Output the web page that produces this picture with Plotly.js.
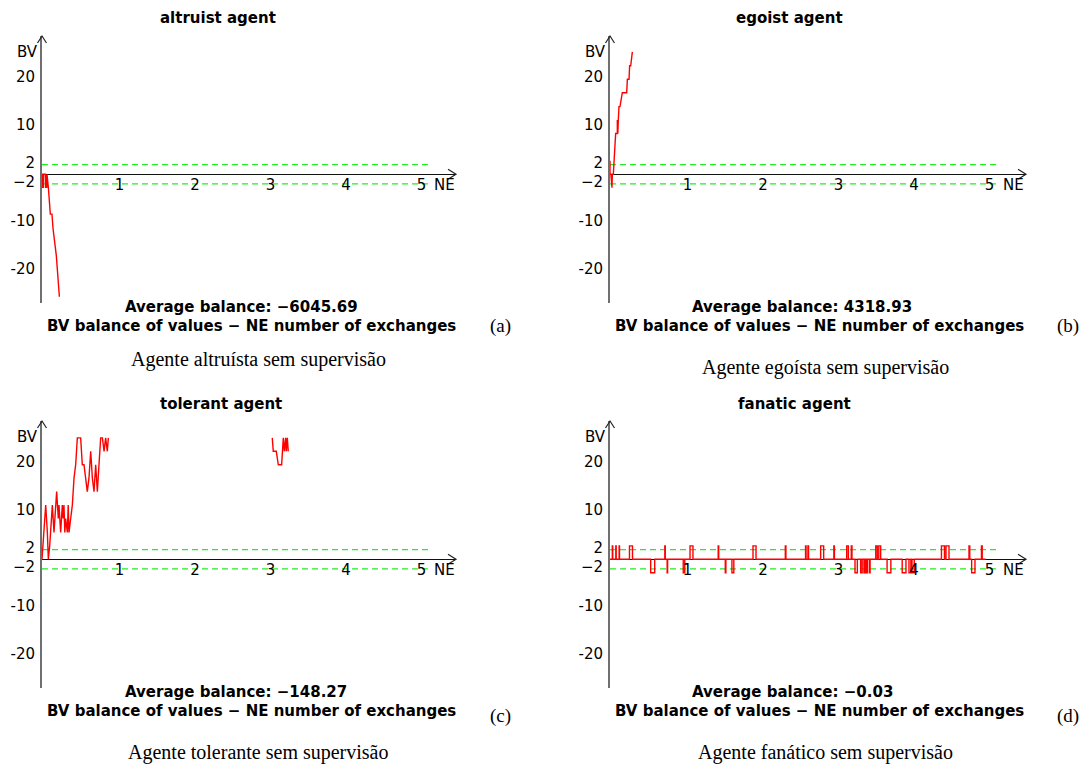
<!DOCTYPE html>
<html>
<head>
<meta charset="utf-8">
<script src="https://cdn.plot.ly/plotly-3.0.1.min.js"></script>
<style>html,body{margin:0;padding:0;background:#fff;}#chart{width:1086px;height:764px;}</style>
</head>
<body>
<div id="chart"></div>
<script>
// ---------- data ----------
const xTickVals = [1, 2, 3, 4, 5];
const xTickText = ["1", "2", "3", "4", "5"];
const yTickVals = [20, 10, 2, -2, -10, -20];
const yTickText = ["20", "10", "2", "\u22122", "-10", "-20"];

const thresholdX = [0, 5.13];
const upperLimit = [2, 2];
const lowerLimit = [-2, -2];

const panelTitles = ["altruist agent", "egoist agent", "tolerant agent", "fanatic agent"];
const averageBalances = ["\u22126045.69", "4318.93", "\u2212148.27", "\u22120.03"];
const panelLetters = ["(a)", "(b)", "(c)", "(d)"];
const captions = ["Agente altruísta sem supervisão", "Agente egoísta sem supervisão",
                  "Agente tolerante sem supervisão", "Agente fanático sem supervisão"];

// altruist agent
const altruistX = [0, 0.004, 0.004, 0.020, 0.022, 0.047, 0.049, 0.064, 0.066, 0.084, 0.11, 0.132, 0.146, 0.168, 0.19, 0.23];
const altruistY = [0, 0, -2.7, -2.7, 0, 0, -2.7, -2.7, 0, -2.7, -8.3, -8.3, -11.3, -14.1, -17, -25.5];

// egoist agent
const egoistX = [0, 0, 0.012, 0.018, 0.026, 0.031, 0.044, 0.075, 0.097, 0.097, 0.104, 0.11, 0.119, 0.132, 0.163, 0.221, 0.23, 0.252, 0.26, 0.274, 0.296];
const egoistY = [2.8, 0, 0, -2.8, -2.8, 0, 0, 8.5, 8.5, 11.3, 8.5, 11.3, 14.1, 14.1, 17, 17, 19.8, 19.8, 22.6, 22.6, 25.5];

// tolerant agent (null = leaves the visible band)
const tolerantX = [0, 0.049, 0.071, 0.084, 0.102, 0.137, 0.159, 0.194, 0.216, 0.225, 0.247, 0.269, 0.28, 0.291, 0.302, 0.313, 0.336, 0.347, 0.358, 0.37, 0.38, 0.402, 0.424, 0.446, 0.468, 0.512, 0.534, 0.556, 0.578, 0.6, 0.622, 0.645, 0.667, 0.689, 0.711, 0.733, 0.755, 0.777, 0.8, 0.822, 0.843, 0.865, 0.879,
                   null,
                   3.05, 3.063, 3.103, 3.13, 3.174, 3.183, 3.196, 3.21, 3.227, 3.236, 3.249, 3.262];
const tolerantY = [0, 11.3, 5.6, 0, 2.8, 11.3, 5.6, 14.1, 8.5, 11.3, 5.6, 11.3, 8.5, 11.3, 5.6, 8.5, 5.6, 11.3, 5.6, 8.5, 8.5, 11.3, 16.9, 19.7, 25.3, 25.3, 19.7, 19.7, 16.9, 14.1, 16.9, 22.5, 16.9, 14.1, 19.7, 14.1, 19.7, 25.3, 25.3, 22.5, 25.3, 22.5, 25.3,
                   null,
                   25.3, 22.5, 22.5, 19.7, 19.7, 22.5, 25.3, 22.5, 25.3, 22.5, 25.3, 22.5];

// fanatic agent: change points of a step line (value holds until next point)
const fanaticX = [0, 0.031, 0.036, 0.077, 0.082, 0.121, 0.126, 0.258, 0.298, 0.539, 0.592, 0.726, 0.732, 0.757, 0.763,
                  0.970, 0.990, 1.060, 1.099, 1.433, 1.440, 1.527, 1.535, 1.615, 1.640, 1.894, 1.934, 2.322, 2.330,
                  2.590, 2.597, 2.622, 2.630, 2.790, 2.830, 2.965, 2.972, 3.135, 3.157, 3.196, 3.205, 3.245, 3.276,
                  3.320, 3.340, 3.364, 3.380, 3.395, 3.408, 3.435, 3.445, 3.520, 3.540, 3.560, 3.585, 3.670, 3.720,
                  3.870, 3.920, 3.960, 3.985, 4.000, 4.030, 4.390, 4.430, 4.450, 4.490, 4.755, 4.765, 4.790, 4.834,
                  4.920, 4.930, 4.976];
const fanaticY = [0, 2.8, 0, 2.8, 0, 2.8, 0, 2.8, 0, -2.8, 0, 2.8, 0, -2.8, 0,
                  -2.8, 0, 2.8, 0, 2.8, 0, -2.8, 0, -2.8, 0, 2.8, 0, 2.8, 0,
                  2.8, 0, 2.8, 0, 2.8, 0, 2.8, 0, 2.8, 0, 2.8, 0, -2.8, 0,
                  -2.8, 0, -2.8, 0, -2.8, 0, -2.8, 0, 2.8, 0, 2.8, 0, -2.8, 0,
                  -2.8, 0, -2.8, 0, -2.8, 0, 2.8, 0, 2.8, 0, 2.8, 0, -2.8, 0,
                  2.8, 0, 0];

// ---------- layout geometry (pixels) ----------
const W = 1086, H = 764;
const UNIT_X = 75.5, UNIT_Y = 4.8;
const panels = [
  {axisX: 42,  zeroY: 174.3, top: 36,  bottom: 303, right: 456, avgY: 307, descY: 326, letterY: 326, capY: 360, titleY: 18},
  {axisX: 610, zeroY: 174.3, top: 36,  bottom: 303, right: 1026, avgY: 307, descY: 326, letterY: 326, capY: 367, titleY: 18},
  {axisX: 42,  zeroY: 559.3, top: 421, bottom: 688, right: 456, avgY: 692, descY: 711, letterY: 716, capY: 752, titleY: 404},
  {axisX: 610, zeroY: 559.3, top: 421, bottom: 688, right: 1026, avgY: 692, descY: 711, letterY: 716, capY: 752, titleY: 404}
];
const titleCX = [218, 789, 221, 794];
const avgLeft = [123, 690, 123, 690];
const descCX = [251, 819, 251, 819];
const letterCX = [500, 1068, 500, 1068];
const capCX = [258, 826, 258, 826];

const px = v => v / W;
const py = v => 1 - v / H;

const FONT = "DejaVu Sans, Lato, sans-serif";
const SERIF = "Liberation Serif, Times New Roman, serif";
const RED = "#ff0000", GREEN = "#22ee22";

const series = [[altruistX, altruistY, "linear"], [egoistX, egoistY, "linear"],
                [tolerantX, tolerantY, "linear"], [fanaticX, fanaticY, "hv"]];

const traces = [];
const layout = {
  width: W, height: H, margin: {l: 0, r: 0, t: 0, b: 0},
  paper_bgcolor: "#fff", plot_bgcolor: "rgba(0,0,0,0)",
  showlegend: false, font: {family: FONT, size: 15, color: "#000"},
  annotations: [], shapes: []
};

panels.forEach((p, i) => {
  const n = i + 1;
  const xa = "x" + n, ya = "y" + n;
  const xKey = "xaxis" + (n === 1 ? "" : n), yKey = "yaxis" + (n === 1 ? "" : n);
  layout[xKey] = {
    domain: [px(p.axisX), px(p.right)],
    range: [0, (p.right - p.axisX) / UNIT_X],
    anchor: "free", position: py(p.zeroY),
    showgrid: false, zeroline: false, showline: false, ticks: "",
    tickvals: xTickVals, ticktext: xTickText, ticklabelshift: 2, ticklabelstandoff: 0,
    tickfont: {family: FONT, size: 15, color: "#000"}, fixedrange: true
  };
  layout[yKey] = {
    domain: [py(p.bottom), py(p.top)],
    range: [-(p.bottom - p.zeroY) / UNIT_Y, (p.zeroY - p.top) / UNIT_Y],
    anchor: xa, showgrid: false,
    zeroline: true, zerolinecolor: "#111", zerolinewidth: 1,
    showline: true, linecolor: "#707070", linewidth: 2, ticks: "",
    tickvals: yTickVals, ticktext: yTickText, ticklabelstandoff: 2, ticklabelshift: -2,
    tickfont: {family: FONT, size: 15, color: "#000"}, fixedrange: true
  };
  // threshold lines
  [upperLimit, lowerLimit].forEach(lim => traces.push({
    type: "scatter", mode: "lines", x: thresholdX, y: lim, xaxis: xa, yaxis: ya,
    line: {color: GREEN, width: 1.2, dash: "6px,4px"}, hoverinfo: "skip"
  }));
  const s = series[i];
  traces.push({
    type: "scatter", mode: "lines", x: s[0], y: s[1], xaxis: xa, yaxis: ya,
    line: {color: RED, width: 1.4, shape: s[2]}, connectgaps: false, hoverinfo: "skip"
  });
  // axis arrow heads
  layout.shapes.push({
    type: "path", xref: "paper", yref: "paper", layer: "above",
    path: `M ${px(p.axisX - 4.5)} ${py(p.top + 7)} L ${px(p.axisX)} ${py(p.top)} L ${px(p.axisX + 4.5)} ${py(p.top + 7)}`,
    line: {color: "#222", width: 1.2}
  });
  layout.shapes.push({
    type: "path", xref: "paper", yref: "paper", layer: "above",
    path: `M ${px(p.right - 8)} ${py(p.zeroY - 5)} L ${px(p.right)} ${py(p.zeroY)} L ${px(p.right - 8)} ${py(p.zeroY + 5)}`,
    line: {color: "#222", width: 1.2}
  });
  const ann = (text, x, y, opts) => layout.annotations.push(Object.assign({
    text, x: px(x), y: py(y), xref: "paper", yref: "paper", showarrow: false,
    xanchor: "center", yanchor: "middle"
  }, opts));
  ann("<b>" + panelTitles[i] + "</b>", titleCX[i], p.titleY, {font: {family: FONT, size: 15}});
  ann("BV", p.axisX - 15, p.top + 16, {font: {family: FONT, size: 15}});
  ann("NE", p.right - 12, p.zeroY + 11, {font: {family: FONT, size: 15}});
  ann("<b>Average balance: " + averageBalances[i] + "</b>", avgLeft[i], p.avgY, {xanchor: "left", font: {family: FONT, size: 15}});
  ann("<b>BV balance of values \u2212 NE number of exchanges</b>", descCX[i], p.descY, {font: {family: FONT, size: 15}});
  ann(panelLetters[i], letterCX[i], p.letterY, {font: {family: SERIF, size: 19}});
  ann(captions[i], capCX[i], p.capY, {font: {family: SERIF, size: 20}});
});

Plotly.newPlot("chart", traces, layout, {staticPlot: true, displayModeBar: false});
</script>
</body>
</html>
